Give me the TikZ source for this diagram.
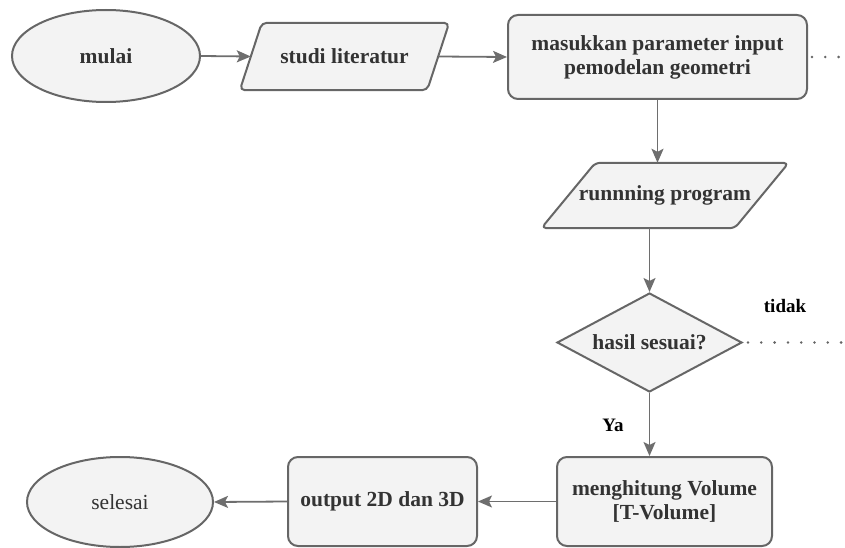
\documentclass[tikz,border=0pt]{standalone}
\usepackage{fontspec}
\setmainfont{Liberation Serif}
\usetikzlibrary{shapes.geometric,arrows.meta}
\definecolor{shapefill}{HTML}{F3F3F3}
\definecolor{shapeline}{HTML}{666666}
\definecolor{txt}{HTML}{333333}
\tikzset{
  base/.style={fill=shapefill,draw=shapeline,line width=2pt,text=txt,
    font=\fontsize{21.5}{24}\selectfont\bfseries,align=center,inner sep=0pt},
  term/.style={base,ellipse,minimum width=#1},
  procbox/.style={base,rectangle,rounded corners=10pt},
  parahold/.style={rectangle,inner sep=0pt,text=txt,
    font=\fontsize{21.5}{24}\selectfont\bfseries},
  paraline/.style={fill=shapefill,draw=shapeline,line width=2pt,rounded corners=5pt,line join=round},
  decision/.style={base,diamond,aspect=1.87,minimum width=185pt,minimum height=99pt},
  flow/.style={draw=shapeline!95,line width=1.8pt,-{Stealth[length=14pt,width=12pt,inset=3pt]}},
  dots/.style={draw=shapeline,line width=2.8pt,line cap=round,dash pattern=on 0pt off 13.3pt},
  lbl/.style={text=black,font=\fontsize{19}{22}\selectfont\bfseries,inner sep=0pt}
}
\begin{document}
\begin{tikzpicture}[x=1pt,y=-1pt]
\useasboundingbox (0,0) rectangle (845,548);
% nodes
\node[term=188pt,minimum height=92pt] (mulai) at (106,56) {mulai};
% studi literatur parallelogram
\node[parahold,minimum width=187pt,minimum height=67pt] (studi) at (344.5,56.5) {};
\path[paraline] ([xshift=11pt]studi.north west) -- ([xshift=11pt]studi.north east)
  -- ([xshift=-11pt]studi.south east) -- ([xshift=-11pt]studi.south west) -- cycle;
\node[parahold] at (studi.center) {studi literatur};
\node[procbox,minimum width=299pt,minimum height=84pt] (param) at (657.5,57) {masukkan parameter input\\pemodelan geometri};
% runnning program parallelogram
\node[parahold,minimum width=193pt,minimum height=65pt] (run) at (665,195.5) {};
\path[paraline] ([xshift=27pt]run.north west) -- ([xshift=27pt]run.north east)
  -- ([xshift=-27pt]run.south east) -- ([xshift=-27pt]run.south west) -- cycle;
\node[parahold] at (run.center) {runnning program};
\node[decision] (cek) at (649.5,342.5) {hasil sesuai?};
\node[procbox,minimum width=215pt,minimum height=89pt] (hitung) at (664.5,501.5) {menghitung Volume\\{}[T-Volume]};
\node[procbox,minimum width=189pt,minimum height=89pt] (output) at (382.5,501.5) {output 2D dan 3D};
\node[term=186pt,minimum height=90pt] (selesai) at (120,502) {\mdseries selesai};
% labels
\node[lbl] (tidak) at (785,306) {tidak};
\node[lbl] (ya) at (613,425) {Ya};
% free ends of dotted lines
\coordinate (endA) at (845,57);
\coordinate (endB) at (845,342.5);
% connectors
\draw[flow] (mulai.east) -- (studi.west);
\draw[flow] (studi.east) -- (param.west);
\draw[flow] (param.south) -- (param.south |- run.north);
\draw[flow] (cek.north |- run.south) -- (cek.north);
\draw[flow] (cek.south) -- (cek.south |- hitung.north);
\draw[flow] (hitung.west) -- (output.east);
\draw[flow] (output.west) -- (selesai.east);
\draw[dots] ([xshift=4pt]param.east) -- (endA);
\draw[dots] ([xshift=5pt]cek.east) -- (endB);
\end{tikzpicture}
\end{document}
